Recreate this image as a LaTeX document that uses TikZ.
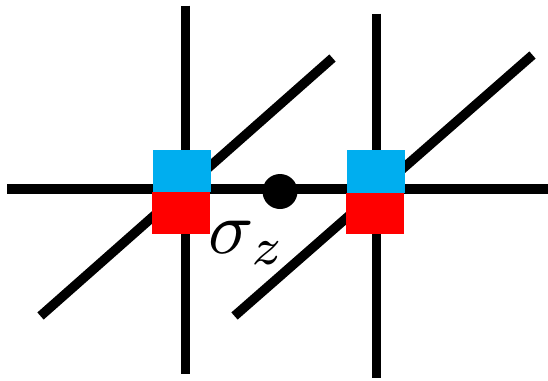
\documentclass[tikz,border=0pt]{standalone}
\definecolor{topblue}{RGB}{0,174,239}
\definecolor{botred}{RGB}{255,0,0}
\tikzset{
  bond/.style={line width=9.5pt, line cap=butt, black},
  upbox/.style={fill=topblue, draw=none, minimum width=58pt, minimum height=42.5pt, inner sep=0pt, outer sep=0pt},
  lowbox/.style={fill=botred, draw=none, minimum width=58pt, minimum height=41.5pt, inner sep=0pt, outer sep=0pt},
  opdot/.style={circle, fill=black, minimum size=35pt, inner sep=0pt}
}
\begin{document}
\begin{tikzpicture}[x=1pt,y=-1pt]
\useasboundingbox (0,0) rectangle (548,380);
% line end points
\coordinate (hL) at (7,189);
\coordinate (hR) at (548,189);
\coordinate (v1t) at (185.5,5.5);
\coordinate (v1b) at (185.5,374);
\coordinate (v2t) at (376.5,13.5);
\coordinate (v2b) at (376.5,377.5);
\coordinate (d1a) at (40.5,316);
\coordinate (d1b) at (332.5,58);
\coordinate (d2a) at (234.5,316);
\coordinate (d2b) at (532.5,55);
% lines
\draw[bond] (hL) -- (hR);
\draw[bond] (v1t) -- (v1b);
\draw[bond] (v2t) -- (v2b);
\draw[bond] (d1a) -- (d1b);
\draw[bond] (d2a) -- (d2b);
% tensors
\node[upbox, anchor=north west] (b1) at (152.5,149.8) {};
\node[lowbox, anchor=north west] (r1) at (152,192.3) {};
\node[upbox, anchor=north west] (b2) at (346.5,150.2) {};
\node[lowbox, anchor=north west] (r2) at (346,192.7) {};
% operator
\node[opdot] (dot) at (280,191.5) {};
\node[anchor=base west, inner sep=0pt, scale=7.5] (lab) at (207,253) {$\sigma_z$};
\end{tikzpicture}
\end{document}
